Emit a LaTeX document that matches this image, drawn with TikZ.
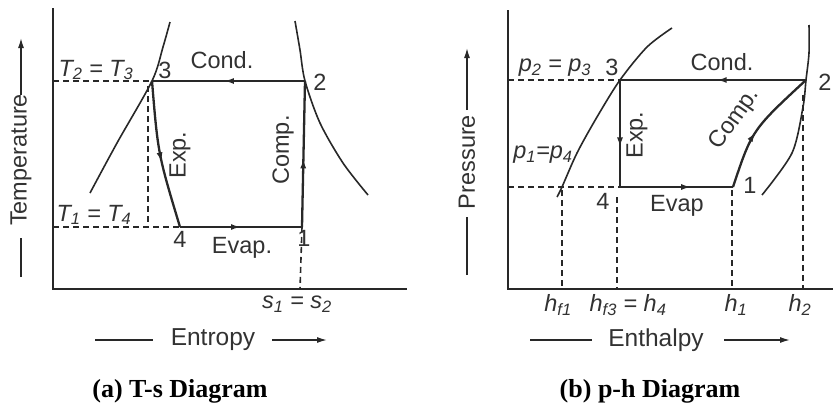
\documentclass[tikz,border=0pt]{standalone}
\usepackage{fontspec}
\setmainfont{Liberation Sans}
\newfontfamily\capfont{Liberation Serif}
\usetikzlibrary{arrows.meta,decorations.markings}
\definecolor{ink}{RGB}{40,40,40}
\definecolor{txt}{RGB}{50,50,50}
\tikzset{
 axis/.style={ink, line width=2pt},
 cyc/.style={ink, line width=2.3pt},
 curve/.style={ink, line width=1.6pt},
 dsh/.style={ink, line width=1.6pt, dash pattern=on 6pt off 4pt},
 lbl/.style={text=txt, font=\fontsize{23.5}{25}\selectfont, inner sep=0pt},
 axlbl/.style={text=txt, font=\fontsize{24.5}{26}\selectfont, inner sep=0pt},
 captext/.style={text=black, font=\capfont\bfseries\fontsize{26}{28}\selectfont, inner sep=0pt},
 midarrow/.style={postaction={decorate}, decoration={markings, mark=at position #1 with {\arrow{Latex[length=10pt,width=6pt]}}}},
 midarrow/.default=0.5,
 axarrow/.style={ink, line width=1.4pt, -{Latex[length=10pt,width=6pt]}},
 axline/.style={ink, line width=1.4pt},
}
\begin{document}
\begin{tikzpicture}[x=1pt,y=-1pt]
\useasboundingbox (0,0) rectangle (833,405);
% ================= T-s diagram =================
\coordinate (LO) at (53,289);
\coordinate (LYt) at (53,8);
\coordinate (LXr) at (407,289);
\draw[axis] (LYt) -- (LO) -- (LXr);
\coordinate (L3) at (152,81);
\coordinate (L2) at (305,81);
\coordinate (L1) at (302,227);
\coordinate (L4) at (180,227);
% saturation curves
\draw[curve] plot[smooth] coordinates {(90,193) (117,143) (152,81) (163,47) (170,22)};
\draw[curve] plot[smooth] coordinates {(295,21) (300,50) (305,81) (320,123) (343,163) (368,195)};
% dashed guides
\coordinate (LT23) at (53,81);
\coordinate (LT14) at (53,227);
\coordinate (L3d) at (148,86);
\coordinate (L3b) at (148,227);
\coordinate (L1b) at (300,289);
\draw[dsh] (LT23) -- (L3);
\draw[dsh] (LT14) -- (L4);
\draw[dsh] (L3d) -- (L3b);
\draw[dsh] (L1) -- (L1b);
% cycle
\draw[cyc, midarrow=0.53] (L2) -- (L3);
\draw[cyc, midarrow=0.55] (L3) .. controls (158,154) .. (L4);
\draw[cyc, midarrow=0.5] (L4) -- (L1);
\draw[cyc, midarrow=0.47] (L1) -- (L2);
% labels
\node[lbl] (lT23) at (96,70) {\itshape T\textsubscript{2} = T\textsubscript{3}};
\node[lbl] (l3) at (165,70) {3};
\node[lbl] (lcond) at (222,60) {Cond.};
\node[lbl] (l2) at (320,82) {2};
\node[lbl, rotate=90] (lexp) at (180,155) {Exp.};
\node[lbl, rotate=90] (lcomp) at (283,150) {Comp.};
\node[lbl] (lT14) at (94,215) {\itshape T\textsubscript{1} = T\textsubscript{4}};
\node[lbl] (l4) at (180,239) {4};
\node[lbl] (levap) at (242,248) {Evap.};
\node[lbl] (l1) at (304,238) {1};
\node[lbl] (ls) at (297,304) {\itshape s\textsubscript{1} = s\textsubscript{2}};
% axis names
\node[lbl, rotate=90] (ltemp) at (21,160) {Temperature};
\coordinate (tB1) at (21,277); \coordinate (tB2) at (21,238);
\coordinate (tA1) at (21,95); \coordinate (tA2) at (21,38);
\draw[axline] (tB1) -- (tB2);
\draw[axarrow] (tA1) -- (tA2);
\node[axlbl] (lent) at (213,340) {Entropy};
\coordinate (eB1) at (95,340); \coordinate (eB2) at (153,340);
\coordinate (eA1) at (272,340); \coordinate (eA2) at (327,340);
\draw[axline] (eB1) -- (eB2);
\draw[axarrow] (eA1) -- (eA2);
\node[captext] (capa) at (180,391) {(a) T-s Diagram};
% ================= p-h diagram =================
\coordinate (RO) at (508,289);
\coordinate (RYt) at (508,10);
\coordinate (RXr) at (833,289);
\draw[axis] (RYt) -- (RO) -- (RXr);
\coordinate (R3) at (620,80);
\coordinate (R2) at (806,80);
\coordinate (R1) at (733,187);
\coordinate (R4) at (620,187);
% saturation curves
\draw[curve] plot[smooth] coordinates {(557,197) (562,187) (577,153) (597,117) (620,80) (647,47) (672,28)};
\draw[curve] plot[smooth] coordinates {(809,25) (809,53) (806,80) (803,107) (792,153) (762,195)};
% dashed guides
\coordinate (Rp23) at (508,80);
\coordinate (Rp14) at (508,187);
\coordinate (Rhf1t) at (562,190); \coordinate (Rhf1b) at (562,289);
\coordinate (Rhf3t) at (617,197); \coordinate (Rhf3b) at (617,289);
\coordinate (Rh1t) at (732,190); \coordinate (Rh1b) at (732,289);
\coordinate (Rh2t) at (803,95); \coordinate (Rh2b) at (803,289);
\draw[dsh] (Rp23) -- (R3);
\draw[dsh] (Rp14) -- (R4);
\draw[dsh] (Rhf1t) -- (Rhf1b);
\draw[dsh] (Rhf3t) -- (Rhf3b);
\draw[dsh] (Rh1t) -- (Rh1b);
\draw[dsh] (Rh2t) -- (Rh2b);
% cycle
\draw[cyc, midarrow=0.48] (R2) -- (R3);
\draw[cyc, midarrow=0.63] (R3) -- (R4);
\draw[cyc, midarrow=0.63] (R4) -- (R1);
\draw[cyc, midarrow=0.45] (R1) .. controls (752,130) .. (R2);
% labels
\node[lbl] (lp23) at (555,68) {\itshape p\textsubscript{2} = p\textsubscript{3}};
\node[lbl] (r3) at (612,67) {3};
\node[lbl] (rcond) at (722,62) {Cond.};
\node[lbl] (r2) at (825,82) {2};
\node[lbl, rotate=90] (rexp) at (637,135) {Exp.};
\node[lbl, rotate=55] (rcomp) at (735,119) {Comp.};
\node[lbl] (lp14) at (543,155) {\itshape p\textsubscript{1}=p\textsubscript{4}};
\node[lbl] (r4) at (603,201) {4};
\node[lbl] (revap) at (677,206) {Evap};
\node[lbl] (r1) at (750,185) {1};
\node[lbl] (lhf1) at (558,305) {\itshape h\textsubscript{f1}};
\node[lbl] (lhf3) at (628,305) {\itshape h\textsubscript{f3} = h\textsubscript{4}};
\node[lbl] (lh1) at (736,305) {\itshape h\textsubscript{1}};
\node[lbl] (lh2) at (800,305) {\itshape h\textsubscript{2}};
% axis names
\node[lbl, rotate=90] (lpres) at (467,162) {Pressure};
\coordinate (pB1) at (467,275); \coordinate (pB2) at (467,217);
\coordinate (pA1) at (467,110); \coordinate (pA2) at (467,48);
\draw[axline] (pB1) -- (pB2);
\draw[axarrow] (pA1) -- (pA2);
\node[axlbl] (lenth) at (656,340) {Enthalpy};
\coordinate (hB1) at (530,340); \coordinate (hB2) at (592,340);
\coordinate (hA1) at (724,340); \coordinate (hA2) at (790,340);
\draw[axline] (hB1) -- (hB2);
\draw[axarrow] (hA1) -- (hA2);
\node[captext] (capb) at (650,391) {(b) p-h Diagram};
\end{tikzpicture}
\end{document}
